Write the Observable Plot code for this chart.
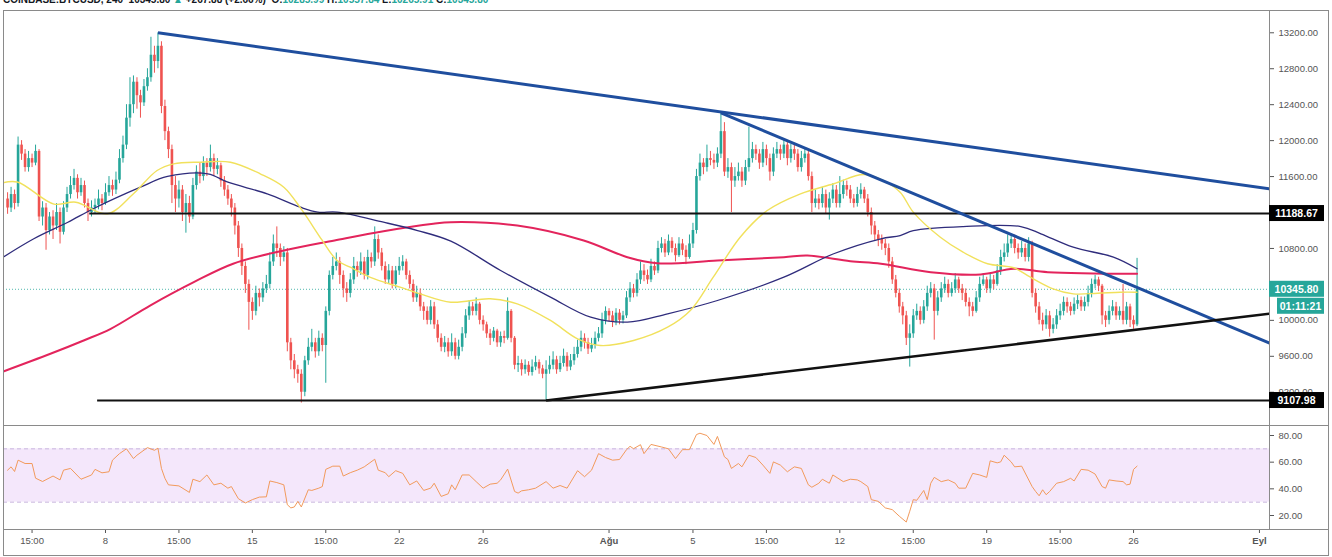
<!DOCTYPE html>
<html><head><meta charset="utf-8">
<script src="https://cdn.jsdelivr.net/npm/d3@7"></script>
<script src="https://cdn.jsdelivr.net/npm/@observablehq/plot@0.6"></script>
<style>
body{margin:0;background:#fff;}
#wrap{position:relative;width:1332px;height:557px;overflow:hidden;background:#fff;font-family:"Liberation Sans",Arial,sans-serif;}
#title{position:absolute;left:3px;top:-6px;font-size:10px;font-weight:bold;color:#131722;white-space:nowrap;line-height:12px;}
#title .g{color:#26a69a}
#outer{position:absolute;left:3px;top:10px;width:1326px;height:546px;border:1px solid #8a8a8a;box-sizing:border-box;}
.sep{position:absolute;left:1269px;width:60px;height:1px;background:#8a8a8a;}
#main{position:absolute;left:0;top:10px;}
#rsi{position:absolute;left:0;top:425px;}
</style></head>
<body>
<div id="wrap">
  <div id="title">COINBASE:BTCUSD, 240&nbsp; 10345.80 <span class="g">▲</span> +267.88 (+2.66%)&nbsp; O:<span class="g">10285.99</span> H:<span class="g">10557.84</span> L:<span class="g">10265.91</span> C:<span class="g">10345.80</span></div>
  <div id="outer"></div>
  <div class="sep" style="top:425px"></div>
  <div class="sep" style="top:529px"></div>
  <div id="main"></div>
  <div id="rsi"></div>
</div>
<script>
// ---------- DATA ----------
const firstCandle = "07-03 11";   // first 4h bar (local time)
const barHours = 4;
const firstOpen = 11350;
const closes = [
11250,11400,11300,11950,11850,11700,11800,11750,11880,11150,
11250,11000,11150,11050,11200,10980,11250,11400,11500,11580,
11420,11500,11300,11200,11250,11280,11350,11300,11420,11500,
11450,11560,11800,11950,12250,12400,12650,12500,12420,12600,
12700,12950,12880,13050,12380,12100,11900,11500,11350,11450,
11200,11300,11150,11500,11650,11600,11750,11700,11800,11680,
11720,11550,11450,11350,11250,11050,10800,10600,10400,10200,
10100,10300,10250,10350,10400,10650,10850,10800,10700,10750,
9750,9550,9450,9400,9200,9550,9700,9750,9650,9800,
9720,10100,10500,10600,10650,10500,10350,10300,10450,10600,
10550,10650,10500,10700,10650,10900,10750,10600,10450,10550,
10400,10550,10600,10650,10500,10400,10250,10300,10150,10100,
10000,10150,9950,9800,9700,9750,9650,9750,9600,9700,
9850,10050,10150,10100,10180,10000,9950,9850,9800,9880,
9750,9820,9800,10100,9800,9500,9520,9450,9500,9420,
9480,9530,9460,9400,9450,9500,9560,9450,9520,9600,
9480,9550,9620,9700,9800,9750,9680,9720,9800,9850,
10000,10100,10050,9980,10080,10000,10050,10250,10350,10300,
10450,10550,10500,10450,10600,10550,10800,10850,10750,10880,
10800,10720,10850,10780,10700,10850,11000,11600,11750,11700,
11800,11780,11750,11850,12100,11650,11700,11550,11600,11650,
11550,11700,11800,11900,11850,11750,11900,11800,11650,11850,
11900,11850,11950,11800,11900,11850,11700,11800,11850,11600,
11300,11350,11300,11400,11250,11350,11450,11300,11400,11500,
11450,11350,11300,11400,11450,11350,11200,11050,10950,10900,
10850,10800,10650,10450,10300,10150,10050,9800,9850,10050,
10100,10000,10150,10300,10350,10100,10250,10350,10400,10300,
10350,10450,10350,10300,10200,10150,10100,10250,10400,10450,
10350,10450,10400,10550,10700,10750,10850,10900,10800,10750,
10800,10700,10850,10300,10150,10000,9950,10050,9900,9950,
10050,10100,10200,10150,10100,10180,10220,10150,10200,10300,
10400,10450,10380,10050,10000,10100,10150,10050,10100,10000,
10150,10000,9950,10345.8];
const highs = [
11420,11480,11450,12040,12000,11900,11880,11850,11950,11900,
11320,11300,11200,11220,11300,11250,11320,11480,11600,11680,
11620,11580,11550,11350,11330,11350,11450,11400,11520,11600,
11560,11650,11900,12050,12400,12700,12720,12700,12560,12680,
12800,13150,13050,13200,13100,12450,12150,11950,11600,11550,
11500,11400,11380,11580,11720,11750,11820,11800,11950,11850,
11800,11750,11600,11500,11400,11300,11100,10850,10650,10450,
10250,10380,10350,10420,10500,10750,10950,11040,10850,10820,
10800,9800,9620,9500,9450,9600,9800,9900,9800,9880,
9850,10150,10550,10700,10750,10700,10550,10420,10520,10700,
10650,10750,10700,10780,10750,11040,10950,10800,10650,10620,
10600,10600,10700,10720,10680,10550,10450,10380,10350,10200,
10150,10220,10200,10000,9850,9820,9800,9850,9800,9780,
9920,10120,10220,10200,10250,10200,10050,9980,9900,9920,
9900,9870,9880,10250,10120,9820,9600,9560,9560,9540,
9560,9600,9560,9500,9550,9600,9650,9600,9600,9680,
9640,9620,9700,9780,9880,9850,9800,9800,9870,9920,
10080,10150,10130,10100,10130,10120,10100,10320,10420,10400,
10520,10650,10620,10560,10680,10650,10880,10920,10900,10950,
10920,10850,10920,10900,10830,10950,11080,11680,11850,11800,
11950,11880,11850,11920,12310,12200,11800,11750,11700,11750,
11700,11780,12150,11980,11950,11900,11980,11950,11850,11920,
11980,11950,12000,11980,11960,11950,11900,11880,11920,11880,
11650,11450,11400,11480,11450,11420,11520,11500,11600,11560,
11550,11500,11400,11480,11520,11480,11400,11250,11100,11000,
10950,10900,10850,10700,10500,10350,10200,10100,9950,10120,
10180,10150,10220,10380,10420,10400,10320,10420,10480,10450,
10420,10520,10480,10400,10350,10250,10200,10320,10480,10520,
10480,10520,10500,10620,10780,10850,10950,10960,10950,10850,
10880,10850,10920,10880,10350,10200,10080,10120,10100,10020,
10120,10180,10260,10250,10200,10250,10280,10260,10260,10380,
10460,10500,10480,10400,10100,10160,10220,10200,10150,10400,
10200,10180,10050,10690];
const lows = [
11180,11200,11230,11260,11780,11650,11650,11700,11720,11100,
11050,10780,10950,10900,11000,10850,10950,11200,11350,11450,
11350,11380,11250,11100,11150,11180,11230,11220,11280,11380,
11380,11400,11520,11750,11900,12150,12300,12350,12250,12380,
12550,12650,12750,12800,12300,12000,11800,11300,11200,11250,
11100,10970,11080,11120,11450,11520,11550,11600,11650,11600,
11620,11480,11380,11280,11150,10950,10700,10500,10300,9890,
10000,10050,10150,10200,10300,10350,10600,10700,10600,10650,
9650,9450,9350,9300,9080,9150,9500,9650,9580,9600,
9650,9300,10050,10450,10550,10400,10250,10200,10250,10400,
10480,10500,10450,10450,10580,10600,10680,10550,10400,10400,
10350,10350,10500,10550,10450,10350,10200,10200,10100,10000,
9950,9950,9900,9750,9650,9640,9590,9600,9560,9560,
9650,9800,10000,10050,10050,9950,9880,9800,9720,9760,
9700,9700,9740,9780,9750,9450,9420,9380,9400,9380,
9380,9440,9400,9350,9108,9400,9450,9400,9420,9480,
9430,9440,9500,9580,9650,9680,9620,9640,9680,9760,
9800,9950,9980,9920,9940,9950,9960,10020,10200,10250,
10260,10400,10430,10400,10420,10500,10520,10750,10700,10720,
10750,10650,10700,10720,10620,10680,10800,10960,11550,11620,
11650,11720,11680,11700,11800,11600,11580,11200,11480,11550,
11480,11500,11650,11750,11780,11680,11700,11720,11550,11600,
11800,11780,11800,11720,11750,11780,11650,11650,11750,11550,
11200,11250,11230,11250,11180,11116,11300,11250,11250,11350,
11380,11300,11250,11260,11350,11300,11150,10950,10880,10820,
10780,10720,10580,10400,10250,10080,9950,9720,9480,9800,
10000,9950,9960,10100,10250,9780,10050,10200,10300,10250,
10260,10300,10300,10220,10150,10040,10040,10080,10200,10380,
10300,10300,10340,10380,10500,10650,10700,10800,10740,10680,
10700,10650,10650,10250,10080,9950,9880,9900,9813,9850,
9900,10000,10050,10080,10050,10060,10120,10100,10100,10150,
10250,10350,10320,9950,9920,9950,10050,10000,10000,9950,
9950,9920,9900,9930];

// moving averages [time "MM-DD HH", value]
const maYellow = [["07-03 03",11523],["07-03 22",11540],["07-05 16",11294],["07-06 17",11315],["07-08 05",11186],["07-09 11",11409],["07-10 14",11668],["07-11 09",11742],["07-12 16",11760],["07-14 02",11760],["07-15 12",11631],["07-16 15",11482],["07-17 12",11223],["07-18 11",10889],["07-19 04",10666],["07-19 19",10592],["07-20 18",10478],["07-22 04",10369],["07-23 03",10295],["07-24 14",10202],["07-26 11",10240],["07-27 18",10184],["07-29 08",9999],["07-30 15",9795],["07-31 17",9720],["08-02 07",9776],["08-03 22",9924],["08-05 00",10110],["08-06 02",10478],["08-07 09",10925],["08-08 16",11222],["08-10 06",11408],["08-11 20",11520],["08-13 06",11623],["08-14 05",11556],["08-15 00",11426],["08-15 15",11204],["08-16 22",10925],["08-18 00",10759],["08-19 04",10630],["08-20 10",10585],["08-21 05",10480],["08-22 07",10351],["08-23 06",10295],["08-24 10",10302],["08-25 12",10313],["08-26 07",10313]];
const maPurple = [["07-03 03",10685],["07-04 17",10908],["07-06 08",11092],["07-07 13",11242],["07-09 19",11482],["07-11 02",11601],["07-13 00",11631],["07-13 23",11537],["07-15 20",11408],["07-17 10",11259],["07-18 06",11204],["07-19 04",11204],["07-21 09",11092],["07-23 00",10999],["07-24 14",10881],["07-26 23",10555],["07-29 08",10258],["07-31 06",10035],["08-02 00",9980],["08-03 22",10073],["08-06 07",10221],["08-09 11",10480],["08-11 20",10741],["08-14 02",10908],["08-15 00",10944],["08-15 15",10999],["08-18 00",11044],["08-20 18",11044],["08-21 17",10963],["08-23 06",10814],["08-25 04",10703],["08-26 07",10574]];
const maRed = [["07-03 03",9420],["07-05 12",9628],["07-07 02",9776],["07-08 09",9906],["07-10 06",10165],["07-12 08",10425],["07-14 05",10630],["07-16 15",10777],["07-19 01",10889],["07-21 09",10992],["07-23 18",11075],["07-24 14",11092],["07-27 18",11055],["07-30 22",10889],["08-02 00",10703],["08-03 10",10636],["08-06 07",10666],["08-09 11",10703],["08-10 14",10722],["08-12 15",10659],["08-14 02",10630],["08-16 11",10536],["08-18 20",10511],["08-20 10",10574],["08-22 01",10536],["08-26 07",10518]];

// RSI [bar index, value]
const rsi = [[0,54],[1,56.5],[2,53],[3,61.5],[5,59],[7,59],[8,48],[10,45.5],[13,49.6],[15,46.7],[16,54],[18,55.3],[21,47.2],[24,50.4],[25,54.6],[27,52],[29,52.8],[30,61.5],[32,66.4],[34,70],[36,62.7],[37,65.2],[40,70.9],[42,68.9],[43,70.5],[44,55.3],[45,47.9],[46,43],[49,42.2],[52,37.3],[53,47.2],[55,45.4],[57,50.4],[59,43],[61,44.2],[63,40.5],[64,41.7],[66,32.6],[68,29.4],[70,31.9],[72,33.8],[74,34],[75,45.9],[77,44.7],[79,43],[80,28.1],[81,25.7],[82,26.4],[83,30.6],[84,26.4],[86,39.3],[87,38.8],[89,40.5],[90,41.7],[91,54.6],[93,57],[95,57],[96,49.6],[98,52.1],[100,54],[102,56.5],[105,62.2],[106,54],[108,52.1],[109,49.1],[111,53.6],[113,51.6],[115,43],[117,45.9],[119,38.8],[121,40.5],[122,44.2],[124,34.3],[126,36.3],[127,43],[128,39.3],[130,50.4],[132,50.4],[134,45.4],[136,40.5],[138,43.5],[140,44.2],[141,46.7],[143,54.8],[145,38],[146,36.8],[147,38.5],[149,39.3],[151,40.5],[154,45.4],[156,40.5],[158,42.5],[160,40.5],[163,53.6],[165,49.1],[167,54],[169,66.4],[171,63.5],[173,61.5],[175,62],[177,69.4],[178,71.9],[179,70.1],[181,73.1],[182,66.4],[184,73.3],[187,71.4],[189,70],[191,62.7],[193,69.4],[195,69.4],[197,80.7],[198,81.7],[200,80],[202,73.3],[203,79.3],[205,64],[206,62],[207,55.3],[209,59],[210,56.5],[212,65.2],[214,63.5],[216,57.8],[218,51.6],[219,60.2],[221,57.8],[223,52.8],[225,56.5],[227,55.3],[229,43],[230,41.2],[232,44.2],[233,47.2],[235,44.2],[236,50.4],[239,45.4],[241,47.2],[243,46.7],[244,45.4],[246,41.7],[247,31.9],[249,30.6],[251,25.7],[253,24.4],[255,19.5],[257,15.1],[258,23.2],[259,31.9],[260,31.4],[262,38.8],[263,31.9],[264,44.2],[265,48.6],[267,45.4],[269,46.7],[271,44.2],[272,40.5],[274,40.5],[276,51.6],[278,50.4],[280,48.6],[281,61],[283,59.5],[284,60.2],[285,65.2],[287,60.2],[288,56.5],[290,57],[293,41.7],[294,38],[295,34.8],[296,39.3],[297,35.6],[298,38],[300,44.2],[302,45.4],[304,47.9],[305,45.9],[307,54.6],[309,54],[311,51.1],[313,41.7],[314,40.5],[315,46.7],[317,45.9],[319,45.4],[320,43],[321,43.5],[322,54.6],[323,57]];
const rsiBand = [30, 70];
const rsiTicks = [20, 40, 60, 80];

// drawings
const trendLines = [
  {t1:"07-10 15", p1:13200, t2:"09-02 00", p2:11450, color:"#1f4e9e", w:3},
  {t1:"08-06 11", p1:12310, t2:"09-02 00", p2:9709,  color:"#1f4e9e", w:3},
  {t1:"07-29 03", p1:9108,  t2:"09-02 00", p2:10085, color:"#111111", w:2.5}
];
const levels = [{from:"07-07 09", price:11188.67}, {from:"07-07 18", price:9107.98}];
const lastPrice = 10345.80;
const countdown = "01:11:21";
const priceTicks = [9200, 9600, 10000, 10400, 10800, 11600, 12000, 12400, 12800, 13200];
const dayTicks  = ["07-04 15","07-08 03","07-11 15","07-15 03","07-18 15","07-22 03","07-26 03","08-05 03","08-08 15","08-12 03","08-15 15","08-19 03","08-22 15","08-26 03"];
const dayLabels = ["15:00","8","15:00","15","15:00","22","26","5","15:00","12","15:00","19","15:00","26"];
const monthTicks  = ["08-01 03","09-01 03"];
const monthLabels = ["Ağu","Eyl"];

// ---------- BUILD ----------
const T = s => new Date(Date.UTC(2019, +s.slice(0,2) - 1, +s.slice(3,5), +s.slice(6,8)));
const t0 = +T(firstCandle), step = barHours * 3600e3;
const barTime = i => new Date(t0 + i * step);
const candles = closes.map((c, i) => {
  const o = i ? closes[i-1] : firstOpen;
  return {t: barTime(i), o, h: highs[i], l: lows[i], c, col: c >= o ? "#26a69a" : "#ef5350"};
});
const xDomain = [new Date(Date.UTC(2019,6,3,6,20)), new Date(Date.UTC(2019,8,1,14,30))];
const toPts = arr => arr.map(([t, v]) => ({t: T(t), v}));
const W = 1332, MR = 63, ML = 3;
const font = '"Liberation Sans", Arial, sans-serif';
const labelMap = new Map([...dayTicks.map((d,i)=>[+T(d), dayLabels[i]]), ...monthTicks.map((d,i)=>[+T(d), monthLabels[i]])]);

const main = Plot.plot({
  width: W, height: 415, marginLeft: ML, marginRight: MR, marginTop: 0, marginBottom: 0,
  style: {fontFamily: font, fontSize: "9.5px", color: "#555", background: "transparent"},
  x: {type: "utc", domain: xDomain, axis: null},
  y: {domain: [8830, 13448], axis: null},
  marks: [
    Plot.ruleY([lastPrice], {stroke: "#26a69a", strokeDasharray: "1,2", strokeOpacity: 0.8}),
    Plot.ruleX(candles, {x: "t", y1: "l", y2: "h", stroke: "col", strokeWidth: 1}),
    Plot.ruleX(candles, {x: "t", y1: "o", y2: "c", stroke: "col", strokeWidth: 2.6}),
    Plot.line(toPts(maRed), {x: "t", y: "v", stroke: "#e3245c", strokeWidth: 2, curve: "catmull-rom", clip: true}),
    Plot.line(toPts(maPurple), {x: "t", y: "v", stroke: "#2f2c7c", strokeWidth: 1.3, curve: "catmull-rom", clip: true}),
    Plot.line(toPts(maYellow), {x: "t", y: "v", stroke: "#f1e15c", strokeWidth: 1.4, curve: "catmull-rom", clip: true}),
    Plot.ruleY(levels, {y: "price", x1: d => T(d.from), x2: xDomain[1], stroke: "#111", strokeWidth: 2}),
    Plot.link(trendLines, {x1: d => T(d.t1), y1: "p1", x2: d => T(d.t2), y2: "p2", stroke: "color", strokeWidth: "w", clip: true}),
    Plot.axisY(priceTicks, {anchor: "right", label: null, tickFormat: d => d.toFixed(2), tickSize: 4, tickPadding: 5}),
    Plot.frame({stroke: "#8a8a8a"})
  ]
});
document.getElementById("main").appendChild(main);

// price tags on the axis
const ys = main.scale("y");
const xr = W - MR;
const svgM = d3.select(main);
function tag(cy, text, bg, x0) {
  const g = svgM.append("g");
  g.append("rect").attr("x", x0).attr("y", cy - 8).attr("width", 1324 - x0).attr("height", 16).attr("fill", bg);
  g.append("text").attr("x", (x0 + 1324) / 2).attr("y", cy).attr("dy", "0.36em").attr("text-anchor", "middle")
    .attr("fill", "#fff").attr("font-weight", "bold").attr("font-size", "10.5px").attr("font-family", font).text(text);
}
levels.forEach(d => tag(ys.apply(d.price), d.price.toFixed(2), "#000", xr));
tag(ys.apply(lastPrice), lastPrice.toFixed(2), "#26a69a", xr);
tag(ys.apply(lastPrice) + 17, countdown, "#26a69a", xr + 8);

const rsiPlot = Plot.plot({
  width: W, height: 132, marginLeft: ML, marginRight: MR, marginTop: 0, marginBottom: 28,
  style: {fontFamily: font, fontSize: "9.5px", color: "#555", background: "transparent"},
  x: {type: "utc", domain: xDomain, axis: null},
  y: {domain: [9.5, 87.5], axis: null},
  marks: [
    Plot.rect([rsiBand], {y1: d => d[0], y2: d => d[1], fill: "#f4e7fb"}),
    Plot.ruleY(rsiBand, {stroke: "#c8b5de", strokeDasharray: "4,3"}),
    Plot.line(rsi.map(([i, v]) => ({t: barTime(i), v})), {x: "t", y: "v", stroke: "#f29a5c", strokeWidth: 1}),
    Plot.axisY(rsiTicks, {anchor: "right", label: null, tickFormat: d => d.toFixed(2), tickSize: 4, tickPadding: 5}),
    Plot.axisX(dayTicks.map(T), {anchor: "bottom", label: null, tickFormat: d => labelMap.get(+d), tickSize: 4, tickPadding: 4}),
    Plot.axisX(monthTicks.map(T), {anchor: "bottom", label: null, tickFormat: d => labelMap.get(+d), tickSize: 4, tickPadding: 4, fontWeight: "bold"}),
    Plot.frame({stroke: "#8a8a8a"})
  ]
});
document.getElementById("rsi").appendChild(rsiPlot);
</script>
</body></html>
